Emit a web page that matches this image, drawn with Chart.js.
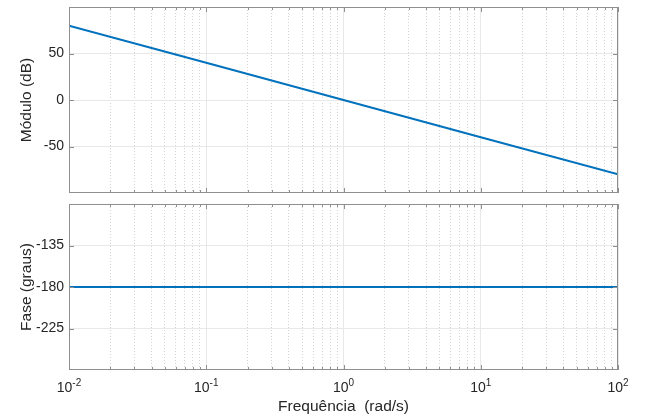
<!DOCTYPE html>
<html>
<head>
<meta charset="utf-8">
<script src="https://cdn.jsdelivr.net/npm/chart.js@4.4.1/dist/chart.umd.min.js"></script>
<style>
    body { margin: 0; background: #ffffff; }
    #wrap { position: relative; width: 645px; height: 418px; }
    #magChart { position: absolute; left: 0; top: 0; }
    #phaseChart { position: absolute; left: 0; top: 200px; }
</style>
</head>
<body>
<div id="wrap">
    <canvas id="magChart" width="645" height="200"></canvas>
    <canvas id="phaseChart" width="645" height="218"></canvas>
</div>
<script>
// dados (diagrama de Bode)
const freq = [0.01, 0.1, 1, 10, 100];
const magDb = [80, 40, 0, -40, -80];
const phaseDeg = [-180, -180, -180, -180, -180];

const xMajor = [0.01, 0.1, 1, 10, 100];
const xExp = ["-2", "-1", "0", "1", "2"];
const xMinor = [];
for (let d = 0.01; d < 100; d *= 10) {
    for (let k = 2; k <= 9; k++) xMinor.push(+(k * d).toPrecision(3));
}
const magTicks = [-50, 0, 50];
const phaseTicks = [-225, -180, -135];

const FONT = "'Liberation Sans', Arial, Helvetica, sans-serif";
const TXT = "#262626";
const BOX = "#8f8f8f";

// caixa do eixo + marcas para dentro (estilo MATLAB)
const boxPlugin = {
    id: "box",
    afterDraw(chart) {
        const { ctx, chartArea: a, scales } = chart;
        ctx.save();
        ctx.strokeStyle = BOX;
        ctx.lineWidth = 1;
        ctx.beginPath();
        const mark = (scale, len, horizontal) => {
            scale.ticks.forEach(t => {
                const p = Math.round(scale.getPixelForValue(t.value)) + 0.5;
                if (horizontal) {
                    ctx.moveTo(p, a.bottom); ctx.lineTo(p, a.bottom - len);
                    ctx.moveTo(p, a.top); ctx.lineTo(p, a.top + len);
                } else {
                    ctx.moveTo(a.left, p); ctx.lineTo(a.left + len, p);
                    ctx.moveTo(a.right, p); ctx.lineTo(a.right - len, p);
                }
            });
        };
        mark(scales.x, 5, true);
        mark(scales.xMinor, 3, true);
        mark(scales.y, 5, false);
        ctx.stroke();
        ctx.strokeRect(a.left + 0.5, a.top + 0.5, a.right - a.left - 1, a.bottom - a.top - 1);
        ctx.restore();
    }
};

// rótulos 10^n com expoente
const expLabels = {
    id: "expLabels",
    afterDraw(chart) {
        const { ctx, chartArea: a, scales } = chart;
        ctx.save();
        ctx.fillStyle = TXT;
        ctx.textBaseline = "alphabetic";
        ctx.textAlign = "left";
        scales.x.ticks.forEach((t, i) => {
            const px = scales.x.getPixelForValue(t.value);
            ctx.font = "14px " + FONT;
            const w1 = ctx.measureText("10").width;
            ctx.font = "10px " + FONT;
            const w2 = ctx.measureText(xExp[i]).width;
            const x0 = px - (w1 + w2) / 2;
            const base = a.bottom + 22;
            ctx.font = "14px " + FONT;
            ctx.fillText("10", x0, base);
            ctx.font = "10px " + FONT;
            ctx.fillText(xExp[i], x0 + w1, base - 6);
        });
        ctx.restore();
    }
};

function makeChart(id, values, yMin, yMax, yTicks, yTitle, pad, xHeight, withLabels) {
    const ctx = document.getElementById(id).getContext("2d");
    return new Chart(ctx, {
        type: "line",
        data: {
            datasets: [{
                data: freq.map((f, i) => ({ x: f, y: values[i] })),
                borderColor: "#0072BD",
                borderWidth: 2,
                pointRadius: 0,
                tension: 0
            }]
        },
        options: {
            responsive: false,
            animation: false,
            layout: { padding: pad },
            plugins: { legend: { display: false }, tooltip: { enabled: false } },
            scales: {
                x: {
                    type: "logarithmic",
                    position: "bottom",
                    min: 0.01,
                    max: 100,
                    afterBuildTicks: s => { s.ticks = xMajor.map(v => ({ value: v })); },
                    ticks: { display: false },
                    grid: { color: "#e8e8e8", drawTicks: false },
                    border: { display: false },
                    title: {
                        display: withLabels,
                        text: "Frequência  (rad/s)",
                        color: TXT,
                        font: { family: FONT, size: 15.5 },
                        padding: { top: 0, bottom: 2 }
                    },
                    afterFit: s => { s.height = xHeight; s.paddingLeft = 0; s.paddingRight = 0; }
                },
                xMinor: {
                    type: "logarithmic",
                    axis: "x",
                    position: "bottom",
                    min: 0.01,
                    max: 100,
                    afterBuildTicks: s => { s.ticks = xMinor.map(v => ({ value: v })); },
                    ticks: { display: false },
                    grid: { color: "#d4d4d4", drawTicks: false },
                    border: { display: false, dash: [1, 2] },
                    afterFit: s => { s.height = 0; s.paddingLeft = 0; s.paddingRight = 0; }
                },
                y: {
                    min: yMin,
                    max: yMax,
                    afterBuildTicks: s => { s.ticks = yTicks.map(v => ({ value: v })); },
                    ticks: { color: TXT, font: { family: FONT, size: 14 }, padding: 5 },
                    grid: { color: "#e8e8e8", drawTicks: false },
                    border: { display: false },
                    title: {
                        display: true,
                        text: yTitle,
                        color: TXT,
                        font: { family: FONT, size: 15.5 },
                        padding: { top: 17, bottom: 0 }
                    },
                    afterFit: s => { s.width = 69; s.paddingTop = 0; s.paddingBottom = 0; }
                }
            }
        },
        plugins: withLabels ? [boxPlugin, expLabels] : [boxPlugin]
    });
}

makeChart("magChart", magDb, -100, 100, magTicks, "Módulo (dB)",
    { left: 0, right: 27, top: 7, bottom: 7 }, 0, false);
makeChart("phaseChart", phaseDeg, -270, -90, phaseTicks, "Fase (graus)",
    { left: 0, right: 27, top: 4, bottom: 0 }, 48, true);
</script>
</body>
</html>
